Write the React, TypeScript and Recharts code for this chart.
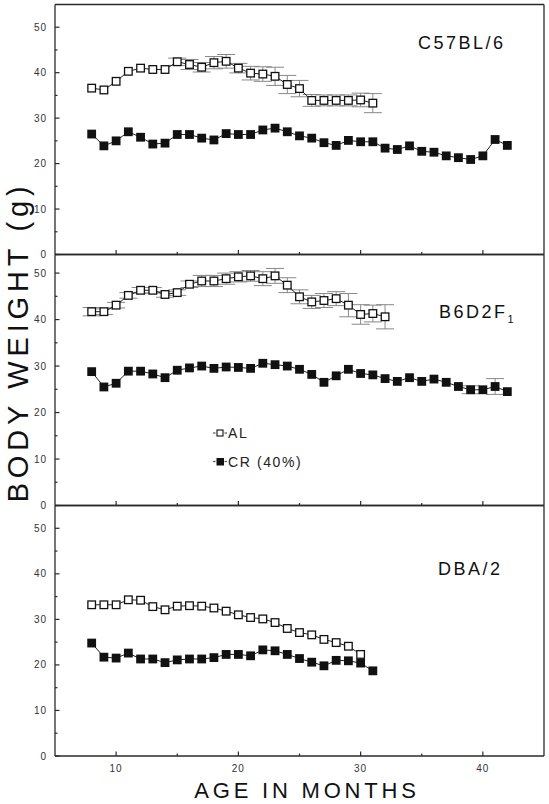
import React from 'react';
import { LineChart, Line, XAxis, YAxis, ErrorBar, ReferenceLine, Legend } from 'recharts';

// ---------- data ----------
const months = [8, 9, 10, 11, 12, 13, 14, 15, 16, 17, 18, 19, 20, 21, 22, 23, 24, 25, 26, 27, 28, 29, 30, 31, 32, 33, 34, 35, 36, 37, 38, 39, 40, 41, 42];

const c57Al = [36.6, 36.2, 38.1, 40.3, 41.0, 40.7, 40.7, 42.4, 41.8, 41.2, 42.2, 42.5, 41.0, 39.9, 39.7, 39.2, 37.4, 36.5, 33.9, 33.9, 33.9, 33.9, 34.0, 33.3];
const c57AlErr = [0, 0, 0, 0, 0, 0, 0, 0.8, 1.1, 1.05, 1.35, 1.5, 1.05, 1.5, 1.6, 2.0, 2.0, 1.8, 1.3, 1.2, 1.2, 1.2, 1.5, 2.1];
const c57Cr = [26.5, 23.9, 25.0, 27.0, 25.8, 24.3, 24.5, 26.4, 26.4, 25.6, 25.2, 26.6, 26.4, 26.4, 27.4, 27.8, 27.0, 26.1, 25.6, 24.6, 24.0, 25.1, 24.8, 24.8, 23.4, 23.1, 23.9, 22.7, 22.5, 21.7, 21.3, 20.9, 21.7, 25.3, 24.0];
const c57CrErr: number[] = [];

const b6Al = [41.7, 41.7, 43.1, 45.2, 46.3, 46.3, 45.4, 45.8, 47.6, 48.3, 48.3, 48.8, 49.2, 49.4, 48.8, 49.4, 47.4, 44.9, 43.8, 44.1, 44.5, 43.1, 41.1, 41.3, 40.6];
const b6AlErr = [0.9, 0.6, 0.6, 0.6, 0.6, 0.6, 0.6, 0.6, 0.7, 1.2, 1.2, 1.2, 1.1, 1.15, 1.5, 1.6, 1.6, 1.5, 1.4, 1.5, 1.5, 2.5, 2.1, 1.8, 2.6];
const b6Cr = [28.8, 25.5, 26.3, 28.9, 28.9, 28.3, 27.5, 29.1, 29.6, 30.0, 29.5, 29.8, 29.7, 29.5, 30.6, 30.3, 30.0, 29.3, 28.2, 26.5, 27.9, 29.3, 28.4, 28.1, 27.3, 26.7, 27.5, 26.7, 27.2, 26.5, 25.6, 24.9, 24.9, 25.6, 24.5];
const b6CrErr = [0, 0, 0, 0, 0, 0, 0, 0, 0, 0, 0, 0, 0, 0, 0, 0, 0, 0, 0, 0, 0, 0, 0, 0, 0, 0, 0, 0, 0, 0, 0, 0.85, 0, 1.7, 0];

const dbaAl = [33.2, 33.2, 33.2, 34.3, 34.2, 32.8, 32.1, 32.9, 33.0, 32.9, 32.5, 31.8, 31.0, 30.4, 30.1, 29.3, 28.0, 27.1, 26.6, 25.6, 24.9, 24.1, 22.3];
const dbaAlErr: number[] = [];
const dbaCr = [24.8, 21.7, 21.5, 22.6, 21.3, 21.3, 20.5, 21.1, 21.3, 21.3, 21.6, 22.3, 22.3, 22.0, 23.3, 23.1, 22.3, 21.4, 20.6, 19.8, 21.0, 20.9, 20.4, 18.7];
const dbaCrErr: number[] = [];

const seriesNames = ['AL', 'CR (40%)'];
const xTicks = [10, 15, 20, 25, 30, 35, 40];
const yTicks = [0, 5, 10, 15, 20, 25, 30, 35, 40, 45, 50];

// ---------- styling ----------
const FONT = '"Liberation Sans", Arial, Helvetica, sans-serif';
const AXIS = '#2a2a2a';
const INK = '#111';

const buildRows = (al: number[], alErr: number[], cr: number[], crErr: number[]) =>
  months.map((m, i) => ({
    month: m,
    al: i < al.length ? al[i] : null,
    alErr: alErr[i] ? alErr[i] : undefined,
    cr: i < cr.length ? cr[i] : null,
    crErr: crErr[i] ? crErr[i] : undefined,
  }));

const makeXTick = (showLabel: boolean) => (props: any) => {
  const { x, y, payload } = props;
  const major = payload.value % 10 === 0;
  return (
    <g>
      <line x1={x} x2={x} y1={y} y2={y - (major ? 4.5 : 2.5)} stroke={AXIS} strokeWidth={1.2} />
      {showLabel && major ? (
        <text x={x} y={y + 12.5} textAnchor="middle" dominantBaseline="central" fontSize={10} letterSpacing={1}
          fill="#333" fontFamily={FONT}>
          {payload.value}
        </text>
      ) : null}
    </g>
  );
};

const yTick = (props: any) => {
  const { x, y, payload } = props;
  const major = payload.value % 10 === 0;
  return (
    <g>
      <line x1={x} x2={x + (major ? 4.5 : 2.5)} y1={y} y2={y} stroke={AXIS} strokeWidth={1.2} />
      {major ? (
        <text x={x - 8} y={y} textAnchor="end" dominantBaseline="central" fontSize={10} letterSpacing={1}
          fill="#333" fontFamily={FONT}>
          {payload.value}
        </text>
      ) : null}
    </g>
  );
};

const makeDot = (filled: boolean) => (props: any) => {
  const { cx, cy, index } = props;
  if (cx == null || cy == null || Number.isNaN(cy)) return <g key={`n${index}`} />;
  if (filled) {
    const s = 8.8;
    return <rect key={`f${index}`} x={cx - s / 2} y={cy - s / 2} width={s} height={s} fill={INK} />;
  }
  const s = 7.6;
  return (
    <rect key={`o${index}`} x={cx - s / 2} y={cy - s / 2} width={s} height={s} fill="#fff" stroke={INK} strokeWidth={1.3} />
  );
};

const renderLegend = () => (
  <svg width={130} height={60} style={{ overflow: 'visible' }}>
    {seriesNames.map((name, i) => {
      const cy = 13 + i * 28.5;
      return (
        <g key={name}>
          <line x1={13} x2={15.5} y1={cy} y2={cy} stroke="#555" strokeWidth={1.2} />
          <line x1={24.5} x2={27} y1={cy} y2={cy} stroke="#555" strokeWidth={1.2} />
          {i === 0 ? (
            <rect x={17} y={cy - 3} width={6} height={6} fill="#fff" stroke={INK} strokeWidth={1.1} />
          ) : (
            <rect x={16.5} y={cy - 3.5} width={7.5} height={7.5} fill={INK} />
          )}
          <text x={28} y={cy + 5} fontSize={14} letterSpacing={1.6} fill="#222" fontFamily={FONT}>
            {name}
          </text>
        </g>
      );
    })}
  </svg>
);

type PanelProps = {
  top: number;
  plotHeight: number;
  yMax: number;
  rows: any[];
  showXLabels: boolean;
  legend?: boolean;
};

const Panel = ({ top, plotHeight, yMax, rows, showXLabels, legend }: PanelProps) => {
  const marginTop = 4.5;
  const xAxisHeight = 25;
  return (
    <div style={{ position: 'absolute', left: 0, top }}>
      <LineChart
        width={549}
        height={marginTop + plotHeight + xAxisHeight}
        data={rows}
        margin={{ top: marginTop, right: 5, bottom: 0, left: 0 }}
      >
        <XAxis
          dataKey="month"
          type="number"
          domain={[5, 45]}
          ticks={xTicks}
          interval={0}
          allowDataOverflow
          height={xAxisHeight}
          tickSize={0}
          tickMargin={0}
          tickLine={false}
          axisLine={{ stroke: AXIS, strokeWidth: 1.3 }}
          tick={makeXTick(showXLabels)}
        />
        <YAxis
          type="number"
          domain={[0, yMax]}
          ticks={yTicks}
          interval={0}
          allowDataOverflow
          width={55}
          tickSize={0}
          tickMargin={0}
          tickLine={false}
          axisLine={{ stroke: AXIS, strokeWidth: 1.3 }}
          tick={yTick}
        />
        <ReferenceLine y={yMax} stroke={AXIS} strokeWidth={1.3} />
        <ReferenceLine x={45} stroke={AXIS} strokeWidth={1.3} />
        <Line
          dataKey="cr"
          name={seriesNames[1]}
          stroke="#222"
          strokeWidth={1}
          dot={makeDot(true)}
          activeDot={false}
          isAnimationActive={false}
        >
          <ErrorBar dataKey="crErr" width={9} stroke="#888" strokeWidth={1} direction="y" />
        </Line>
        <Line
          dataKey="al"
          name={seriesNames[0]}
          stroke="#222"
          strokeWidth={1}
          dot={makeDot(false)}
          activeDot={false}
          isAnimationActive={false}
        >
          <ErrorBar dataKey="alErr" width={9} stroke="#888" strokeWidth={1} direction="y" />
        </Line>
        {legend ? (
          <Legend
            content={renderLegend}
            layout="vertical"
            align="center"
            verticalAlign="middle"
            wrapperStyle={{ position: 'absolute', left: 200, top: 420 - top, width: 130, height: 60 }}
          />
        ) : null}
      </LineChart>
    </div>
  );
};

export default function App() {
  const c57Rows = buildRows(c57Al, c57AlErr, c57Cr, c57CrErr);
  const b6Rows = buildRows(b6Al, b6AlErr, b6Cr, b6CrErr);
  const dbaRows = buildRows(dbaAl, dbaAlErr, dbaCr, dbaCrErr);
  const strainStyle = { fontSize: 18, letterSpacing: 2.5, fill: INK, fontFamily: FONT } as const;
  return (
    <div style={{ position: 'absolute', left: 0, top: 0, width: 549, height: 804, background: '#fff', overflow: 'hidden' }}>
      <Panel top={0} plotHeight={250} yMax={55} rows={c57Rows} showXLabels={false} />
      <Panel top={250} plotHeight={251} yMax={54} rows={b6Rows} showXLabels={false} legend />
      <Panel top={501} plotHeight={250.5} yMax={55} rows={dbaRows} showXLabels />
      <svg width={549} height={804} style={{ position: 'absolute', left: 0, top: 0, pointerEvents: 'none' }}>
        <text x={418} y={49} {...strainStyle}>C57BL/6</text>
        <text x={439} y={317.5} {...strainStyle}>
          B6D2F<tspan fontSize={11} dy={5} letterSpacing={0}>1</tspan>
        </text>
        <text x={438} y={575} {...strainStyle}>DBA/2</text>
        <text
          x={0}
          y={0}
          transform="translate(28,342) rotate(-90)"
          textAnchor="middle"
          fontSize={29}
          letterSpacing={4.8}
          fill={INK}
          fontFamily={FONT}
        >
          BODY WEIGHT (g)
        </text>
        <text x={307} y={798} textAnchor="middle" fontSize={22} letterSpacing={3.8} fill={INK} fontFamily={FONT}>
          AGE IN MONTHS
        </text>
      </svg>
    </div>
  );
}
